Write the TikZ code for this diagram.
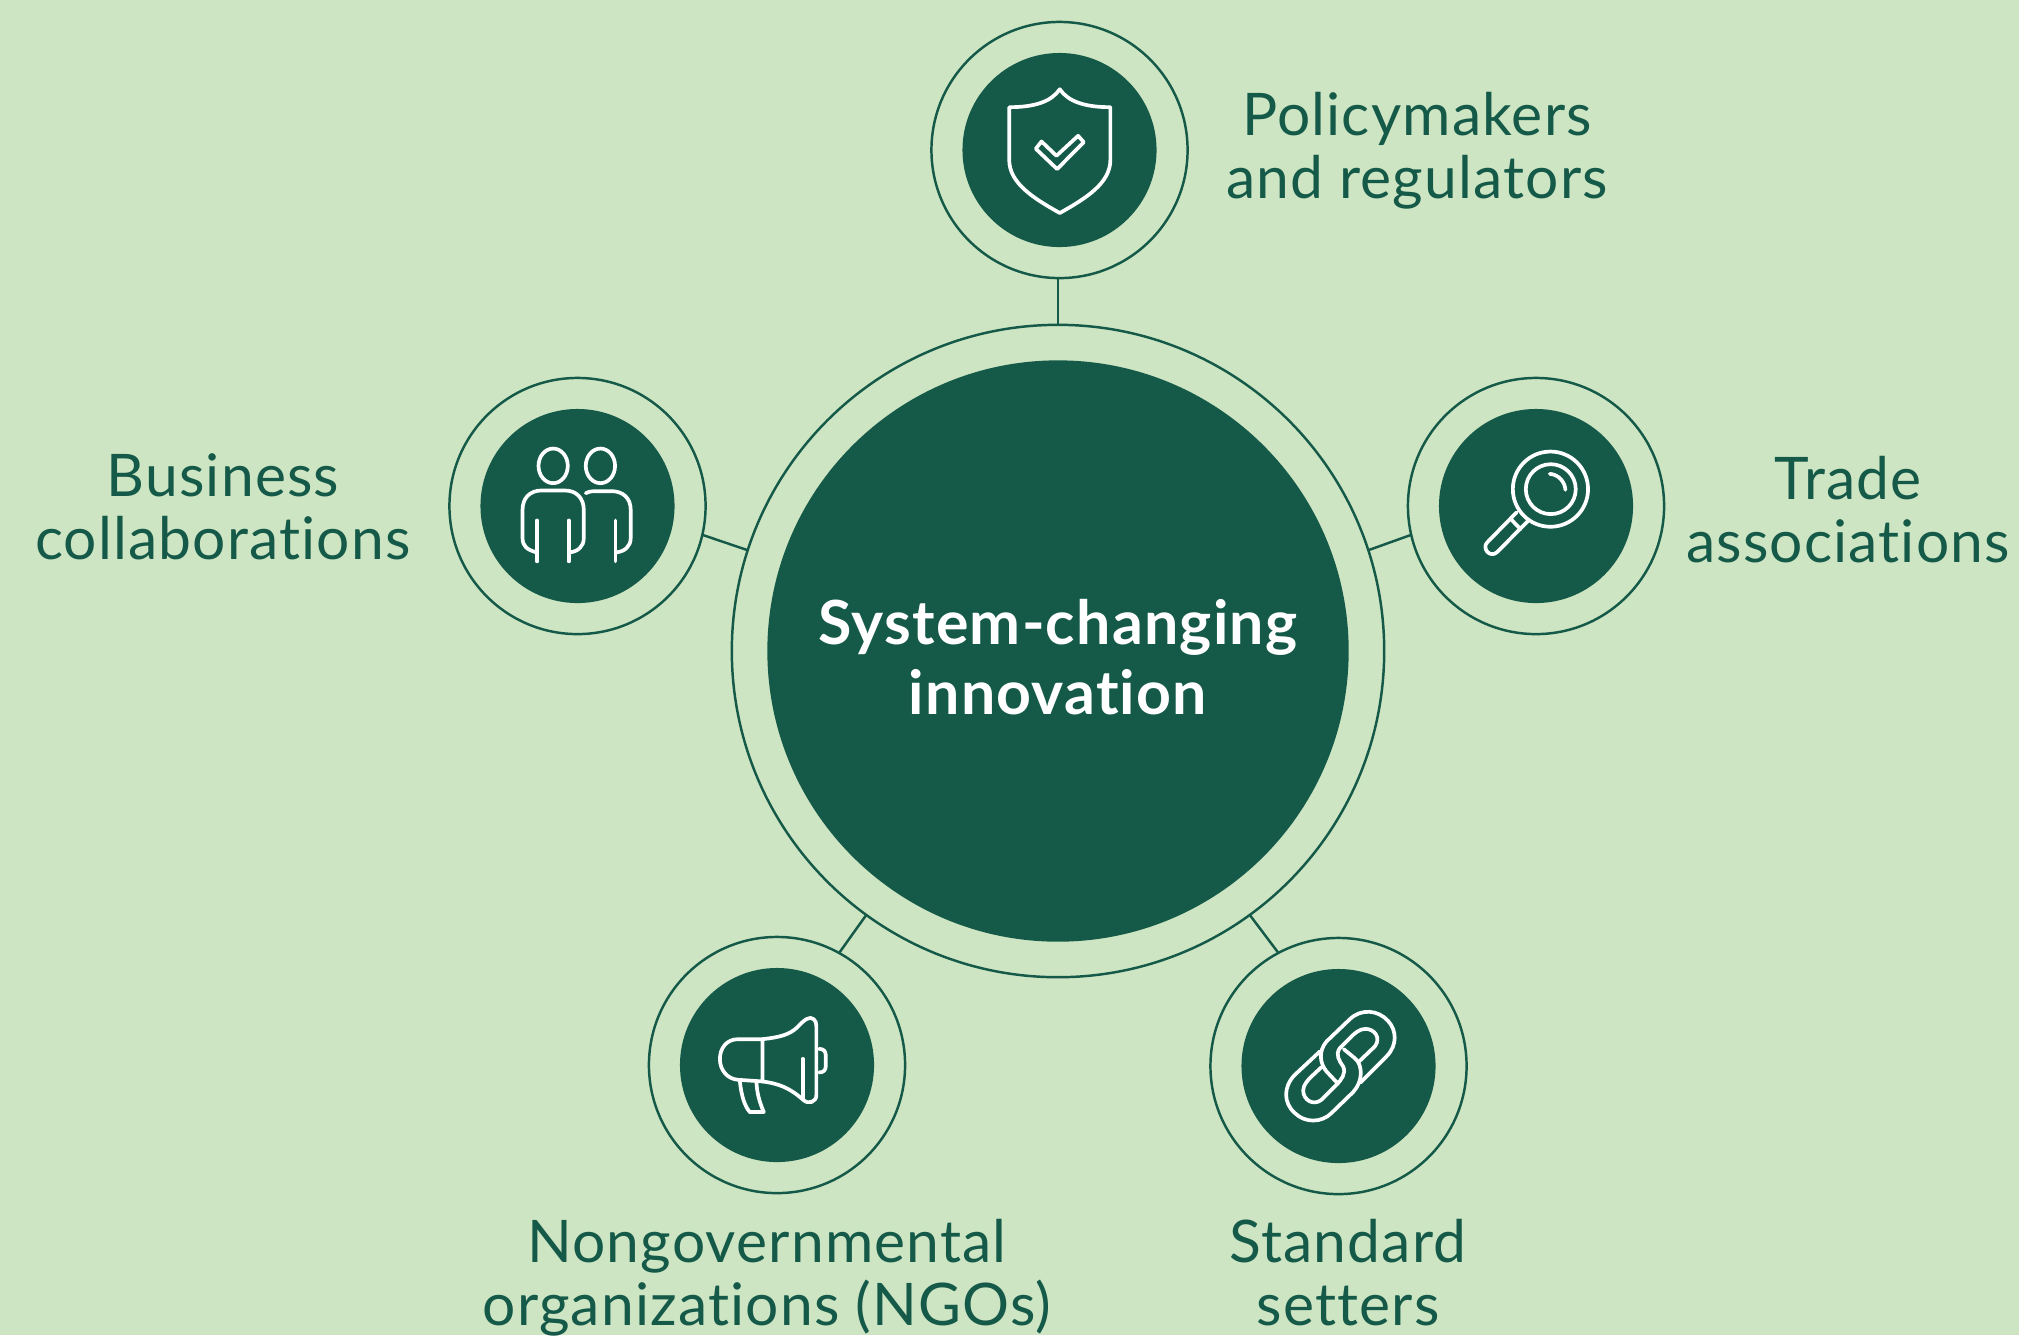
\documentclass[tikz,border=0pt]{standalone}
\usepackage{fontspec}
\setmainfont{Lato}[LetterSpace=2.0,Ligatures=NoCommon]
\usetikzlibrary{positioning}
\definecolor{leaf}{HTML}{CDE5C3}
\definecolor{pine}{HTML}{155A49}
\tikzset{
    ring/.style={circle,draw=pine,line width=0.7pt,minimum size=2.56cm,inner sep=0pt,outer sep=0pt},
    disc/.style={circle,fill=pine,minimum size=1.94cm,inner sep=0pt,outer sep=0pt},
    link/.style={draw=pine,line width=0.7pt},
    label/.style={text=pine,align=center,font=\fontsize{16.7}{17.9}\selectfont},
    icon/.style={draw=white,line width=1.05pt,line join=round,line cap=round},
    crop/.style={shift={#1},x=0.00333333cm,y=-0.00333333cm},
}
\begin{document}
\begin{tikzpicture}[x=0.01cm,y=-0.01cm]
    \useasboundingbox (0,0) rectangle (2019,1335);
    \fill[leaf] (0,0) rectangle (2019,1335);
    % Centre
    \node[ring,minimum size=6.52cm] (hubring) at (1058,651) {};
    \node[disc,minimum size=5.81cm] (hub) at (1058,651) {};
    \node[text=white,align=center,font=\fontsize{17.3}{20.1}\selectfont\bfseries] (hublabel) at (1058,657) {System-changing\\innovation};
    % Outer circles
    \foreach \name/\x/\y in {policy/1059.5/150, business/577.5/506, trade/1536/506, ngo/777/1065, standard/1338.5/1066} {
        \node[ring] (\name ring) at (\x,\y) {};
        \node[disc] (\name) at (\x,\y) {};
    }
    % Connectors
    \draw[link] (hubring.90) -- (hubring.90 |- policyring.south);
    \draw[link] (hubring.162) -- (businessring.-13.5);
    \draw[link] (hubring.18) -- (tradering.193.5);
    \draw[link] (hubring.234) -- (ngoring.61);
    \draw[link] (hubring.306) -- (standardring.118);
    % Labels
    \node[label] (policylabel) at (1417,151) {Policymakers\\and regulators};
    \node[label] (businesslabel) at (223,507) {Business\\collaborations};
    \node[label] (tradelabel) at (1848,510) {Trade\\associations};
    \node[label] (ngolabel) at (767,1278) {Nongovernmental\\organizations (NGOs)};
    \node[label] (standardlabel) at (1348,1273) {Standard\\setters};
    % Shield
    \begin{scope}[crop={(920,10)}]
        \draw[icon] (420,238) .. controls (395,275) and (345,292) .. (268,292) -- (268,450)
            .. controls (268,520) and (340,565) .. (420,610)
            .. controls (500,565) and (572,520) .. (572,450) -- (572,292)
            .. controls (495,292) and (445,275) .. (420,238) -- cycle;
        \draw[icon] (365,395) -- (410,438) -- (475,378) -- (492,397) -- (412,478) -- (348,417) -- cycle;
    \end{scope}
    % People
    \begin{scope}[crop={(440,370)}]
        \foreach \x in {340,482}
            \draw[icon] (\x,288) ellipse [x radius=44,y radius=52];
        \draw[icon] (290,548) .. controls (262,540) and (248,530) .. (248,505) -- (248,420)
            .. controls (248,385) and (270,362) .. (305,362) -- (375,362)
            .. controls (410,362) and (432,385) .. (432,420) -- (432,505)
            .. controls (432,530) and (415,545) .. (390,548);
        \draw[icon] (438,370) .. controls (450,364) and (460,364) .. (470,364) -- (515,364)
            .. controls (550,364) and (573,385) .. (573,420) -- (573,505)
            .. controls (573,530) and (555,545) .. (530,548);
        \foreach \x in {292,387,527}
            \draw[icon] (\x,452) -- (\x,575);
    \end{scope}
    % Magnifier
    \begin{scope}[crop={(1400,370)}]
        \draw[icon] (452,358) circle [radius=113];
        \draw[icon] (453,358) circle [radius=75];
        \draw[icon] (450,312) .. controls (476,314) and (495,335) .. (497,360);
        \draw[icon] (350,428) -- (262,518) .. controls (245,535) and (270,567) .. (292,547) -- (383,455);
        \draw[icon] (335,450) -- (362,478);
    \end{scope}
    % Megaphone
    \begin{scope}[crop={(640,930)}]
        \draw[icon] (368,328) -- (295,328) .. controls (260,328) and (240,355) .. (240,388)
            .. controls (240,420) and (262,448) .. (295,450) -- (368,455) -- cycle;
        \draw[icon] (368,328) .. controls (420,322) and (450,315) .. (475,290)
            .. controls (495,268) and (510,258) .. (522,268) .. controls (528,272) and (530,280) .. (530,290) -- (530,495)
            .. controls (530,518) and (505,525) .. (490,510) .. controls (450,475) and (420,462) .. (368,455);
        \draw[icon] (489,387) -- (489,505);
        \draw[icon] (538,357) .. controls (552,357) and (558,365) .. (558,375) -- (558,410) .. controls (558,420) and (552,428) .. (538,428);
        \draw[icon] (300,455) .. controls (305,500) and (315,530) .. (330,547) -- (372,547) .. controls (358,515) and (352,490) .. (350,460);
    \end{scope}
    % Chain
    \begin{scope}[crop={(1200,930)}]
        \draw[icon] (482,458) -- (560,380) .. controls (595,345) and (590,300) .. (565,273)
            .. controls (535,240) and (485,235) .. (450,268) -- (380,335)
            .. controls (355,365) and (360,400) .. (380,425) -- (415,462);
        \draw[icon] (478,395) -- (525,350) .. controls (545,325) and (525,297) .. (497,297)
            .. controls (480,297) and (465,310) .. (455,320) -- (420,355)
            .. controls (405,375) and (420,395) .. (430,410) .. controls (440,430) and (425,450) .. (410,465) -- (365,510)
            .. controls (340,530) and (310,510) .. (310,482) .. controls (310,465) and (325,450) .. (335,440) -- (365,412);
        \draw[icon] (360,365) -- (285,435) .. controls (250,470) and (250,520) .. (285,550)
            .. controls (315,580) and (365,580) .. (395,550) -- (460,487)
            .. controls (490,455) and (490,405) .. (465,385) -- (432,358);
    \end{scope}
\end{tikzpicture}
\end{document}
